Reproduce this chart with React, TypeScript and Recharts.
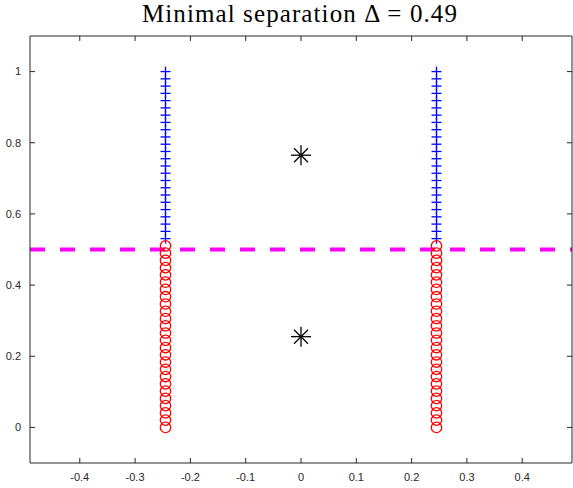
import React from "react";
import {
  ScatterChart,
  Scatter,
  XAxis,
  YAxis,
  ReferenceLine,
} from "recharts";

// cluster locations (separation 0.49)
const columnX = [-0.245, 0.245];

// points below the threshold (red circles)
const circleY = [
  0, 0.0204, 0.0408, 0.0612, 0.0816, 0.102, 0.1224, 0.1429, 0.1633, 0.1837,
  0.2041, 0.2245, 0.2449, 0.2653, 0.2857, 0.3061, 0.3265, 0.3469, 0.3673,
  0.3878, 0.4082, 0.4286, 0.449, 0.4694, 0.4898, 0.5102,
];

// points above the threshold (blue pluses)
const plusY = [
  0.5306, 0.551, 0.5714, 0.5918, 0.6122, 0.6327, 0.6531, 0.6735, 0.6939,
  0.7143, 0.7347, 0.7551, 0.7755, 0.7959, 0.8163, 0.8367, 0.8571, 0.8776,
  0.898, 0.9184, 0.9388, 0.9592, 0.9796, 1,
];

const centerX = [0, 0];
const centerY = [0.255, 0.765];
const threshold = 0.5;

const xTicks = [-0.4, -0.3, -0.2, -0.1, 0, 0.1, 0.2, 0.3, 0.4];
const yTicks = [0, 0.2, 0.4, 0.6, 0.8, 1];
const xDomain = [-0.49, 0.49];
const yDomain = [-0.1, 1.1];

const circles = columnX.flatMap((x) => circleY.map((y) => ({ x, y })));
const pluses = columnX.flatMap((x) => plusY.map((y) => ({ x, y })));
const centers = centerX.map((x, i) => ({ x, y: centerY[i] }));

const AXIS = "#262626";
const tickStyle = { fill: AXIS, fontSize: 11, fontFamily: "Liberation Sans, Arial, sans-serif" };

const CircleMark = (p: any) => (
  <circle cx={p.cx} cy={p.cy} r={5.2} fill="none" stroke="#ff0000" strokeWidth={1.3} />
);

const PlusMark = (p: any) => (
  <g stroke="#0000ff" strokeWidth={1.3}>
    <line x1={p.cx - 5} y1={p.cy} x2={p.cx + 5} y2={p.cy} />
    <line x1={p.cx} y1={p.cy - 5} x2={p.cx} y2={p.cy + 5} />
  </g>
);

const StarMark = (p: any) => (
  <g stroke="#000" strokeWidth={1.3}>
    <line x1={p.cx - 10} y1={p.cy} x2={p.cx + 10} y2={p.cy} />
    <line x1={p.cx} y1={p.cy - 10} x2={p.cx} y2={p.cy + 10} />
    <line x1={p.cx - 7} y1={p.cy - 7} x2={p.cx + 7} y2={p.cy + 7} />
    <line x1={p.cx - 7} y1={p.cy + 7} x2={p.cx + 7} y2={p.cy - 7} />
  </g>
);

const fmt = (v: number) => String(v);
const blank = () => "";

export default function App() {
  return (
    <div style={{ position: "fixed", left: 0, top: 0, width: 573, height: 488, background: "#fff" }}>
      <div
        style={{
          position: "absolute",
          left: 0,
          top: 1,
          width: 600,
          textAlign: "center",
          fontFamily: "Liberation Serif, 'DejaVu Serif', serif",
          fontSize: 25,
          letterSpacing: 1.1,
          color: "#000",
          lineHeight: "26px",
        }}
      >
        Minimal separation Δ = 0.49
      </div>
      <ScatterChart width={573} height={488} margin={{ top: 35, right: 0, left: 0, bottom: 0 }}>
        <XAxis
          xAxisId="bottom"
          type="number"
          dataKey="x"
          domain={xDomain}
          ticks={xTicks}
          allowDataOverflow
          height={25}
          stroke={AXIS}
          tickSize={-5}
          tickMargin={15}
          tick={tickStyle}
          tickFormatter={fmt}
        />
        <XAxis
          xAxisId="top"
          orientation="top"
          type="number"
          dataKey="x"
          domain={xDomain}
          ticks={xTicks}
          allowDataOverflow
          height={1}
          stroke={AXIS}
          tickSize={-5}
          tickFormatter={blank}
        />
        <YAxis
          yAxisId="left"
          type="number"
          dataKey="y"
          domain={yDomain}
          ticks={yTicks}
          allowDataOverflow
          width={30}
          stroke={AXIS}
          tickSize={-5}
          tickMargin={14}
          tick={tickStyle}
          tickFormatter={fmt}
        />
        <YAxis
          yAxisId="right"
          orientation="right"
          type="number"
          dataKey="y"
          domain={yDomain}
          ticks={yTicks}
          allowDataOverflow
          width={1}
          stroke={AXIS}
          tickSize={-5}
          tickFormatter={blank}
        />
        <ReferenceLine
          xAxisId="bottom"
          yAxisId="left"
          y={threshold}
          stroke="#ff00ff"
          strokeWidth={4}
          strokeDasharray="15 15"
        />
        <Scatter
          xAxisId="bottom"
          yAxisId="left"
          data={pluses}
          shape={PlusMark}
          isAnimationActive={false}
        />
        <Scatter
          xAxisId="bottom"
          yAxisId="left"
          data={circles}
          shape={CircleMark}
          isAnimationActive={false}
        />
        <Scatter
          xAxisId="bottom"
          yAxisId="left"
          data={centers}
          shape={StarMark}
          isAnimationActive={false}
        />
      </ScatterChart>
    </div>
  );
}
